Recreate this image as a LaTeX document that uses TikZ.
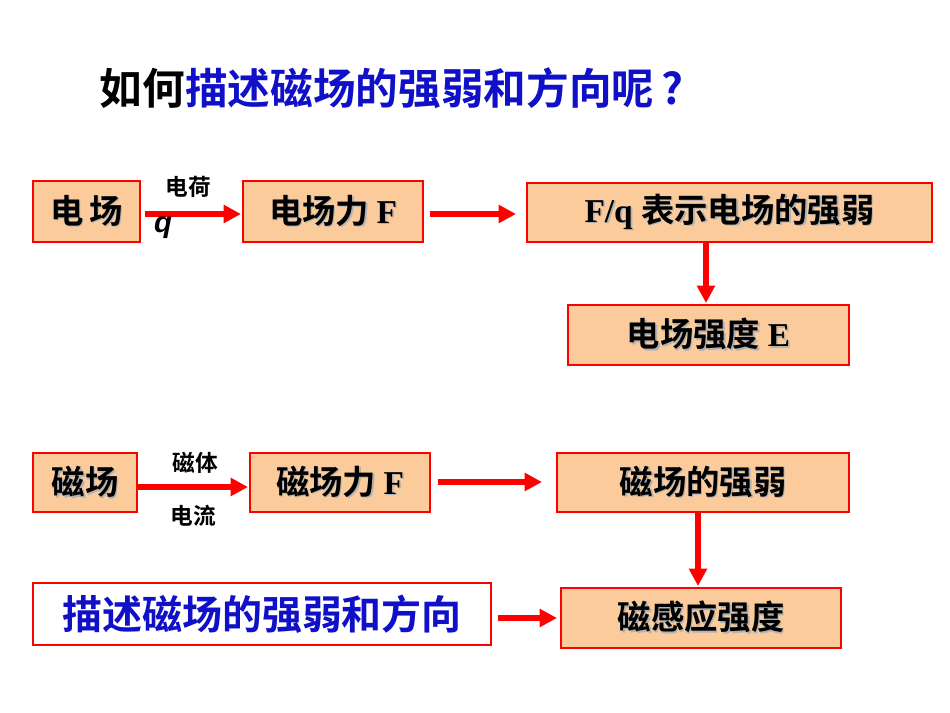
\documentclass[tikz,border=0pt]{standalone}
\usepackage{fontspec}
\setmainfont{Liberation Serif}
\newfontfamily\cjk{Noto Sans CJK SC}[BoldFont={* Bold}]
\usetikzlibrary{arrows.meta}
\definecolor{peach}{HTML}{FBCB9B}
\definecolor{tblue}{HTML}{1010C8}
\newcommand{\sh}[1]{\textcolor{gray!60}{\rlap{\hspace{1.2pt}\raisebox{-1.2pt}{#1}}}#1}
\tikzset{
 bx/.style={draw=red,line width=1.5pt,fill=peach,inner sep=0pt,font=\fontsize{25}{28}\bfseries\cjk},
 ar/.style={draw=red,line width=4pt,-{Triangle[length=13pt,width=13pt]}},
 lb/.style={font=\fontsize{17}{20}\bfseries\cjk}
}
\begin{document}
\begin{tikzpicture}[x=0.75pt,y=-0.75pt]
\useasboundingbox (0,0) rectangle (950,713);
\node[anchor=west,font=\fontsize{32}{36}\bfseries\cjk] (t) at (95,88) {如何\textcolor{tblue}{描述磁场的强弱和方向呢}\,\textcolor{tblue}{?}};
\path[bx] (33,181) rectangle (140,242) node[midway] (a1) {\sh{电\,场}};
\path[bx] (243,181) rectangle (423,242) node[midway] (a2) {\sh{电场力 \fontspec{Liberation Serif}F}};
\path[bx] (527,183) rectangle (932,242) node[midway] (a3) {\sh{\fontspec{Liberation Serif}F/q\ \cjk 表示电场的强弱}};
\path[bx] (568,305) rectangle (849,365) node[midway] (a4) {\sh{电场强度 \fontspec{Liberation Serif}E}};
\path[bx] (33,453) rectangle (137,512) node[midway] (b1) {\sh{磁场}};
\path[bx] (250,453) rectangle (430,512) node[midway] (b2) {\sh{磁场力 \fontspec{Liberation Serif}F}};
\path[bx] (557,453) rectangle (849,512) node[midway] (b3) {\sh{磁场的强弱}};
\path[bx,fill=white] (33,583) rectangle (491,645) node[midway,font=\fontsize{30}{34}\bfseries\cjk,text=tblue] (b4) {描述磁场的强弱和方向};
\path[bx] (561,588) rectangle (841,648) node[midway] (b5) {\sh{磁感应强度}};
\coordinate (p1) at (145,214); \coordinate (p2) at (241,214);
\draw[ar] (p1) -- (p2);
\coordinate (p3) at (430,214); \coordinate (p4) at (516,214);
\draw[ar] (p3) -- (p4);
\draw[ar] (706,242) -- (706,303);
\coordinate (q1) at (137,487); \coordinate (q2) at (248,487);
\draw[ar] (q1) -- (q2);
\coordinate (q3) at (438,482); \coordinate (q4) at (542,482);
\draw[ar] (q3) -- (q4);
\draw[ar] (698,512) -- (698,586);
\coordinate (q5) at (498,618); \coordinate (q6) at (557,618);
\draw[ar] (q5) -- (q6);
\node[lb] (l1) at (188,187) {电荷};
\node[font=\fontsize{22}{24}\bfseries\itshape\fontspec{Liberation Sans}] (l2) at (163,228) {q};
\node[lb] (l3) at (195,463) {磁体};
\node[lb] (l4) at (193,516) {电流};
\end{tikzpicture}
\end{document}
